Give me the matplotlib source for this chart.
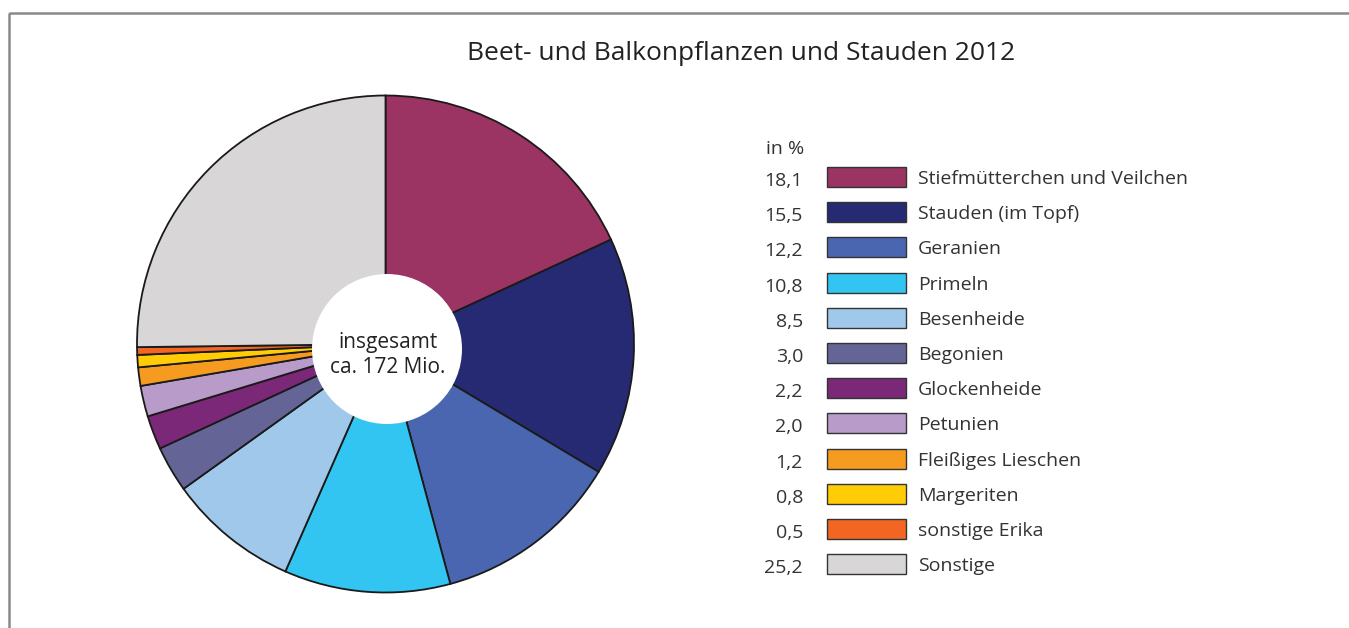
import matplotlib.pyplot as plt
from matplotlib.patches import Rectangle, Circle

plt.rcParams['font.family'] = ['Open Sans', 'DejaVu Sans']

labels = ['Stiefmütterchen und Veilchen', 'Stauden (im Topf)', 'Geranien', 'Primeln',
          'Besenheide', 'Begonien', 'Glockenheide', 'Petunien', 'Fleißiges Lieschen',
          'Margeriten', 'sonstige Erika', 'Sonstige']
values = [18.1, 15.5, 12.2, 10.8, 8.5, 3.0, 2.2, 2.0, 1.2, 0.8, 0.5, 25.2]
value_text = ['18,1', '15,5', '12,2', '10,8', '8,5', '3,0', '2,2', '2,0', '1,2', '0,8', '0,5', '25,2']
colors = ['#9b3463', '#262a72', '#4a66b0', '#33c5f1', '#a0c8eb', '#646496',
          '#7b2878', '#b89bc9', '#f59c20', '#ffcc05', '#f26522', '#d8d6d7']

W, H = 1349, 628
fig = plt.figure(figsize=(W / 100, H / 100), dpi=100)

# layout axes in pixel units (y downwards)
bg = fig.add_axes([0, 0, 1, 1])
bg.set_xlim(0, W)
bg.set_ylim(H, 0)
bg.axis('off')

# frame (right and bottom run off the picture)
bg.add_patch(Rectangle((9, 13), W + 20, H + 20, fill=False, edgecolor='#8a8a8a', lw=1.8))

bg.text(741, 53, 'Beet- und Balkonpflanzen und Stauden 2012', ha='center', va='center',
        fontsize=19, color='#222222')

# legend
bg.text(766, 149, 'in %', ha='left', va='center', fontsize=14, color='#333333')
y0, step = 177, 35.2
for i, (lab, vt, c) in enumerate(zip(labels, value_text, colors)):
    y = y0 + i * step
    bg.text(803, y + 4, vt, ha='right', va='center', fontsize=14, color='#333333')
    bg.add_patch(Rectangle((827, y - 10), 79, 20, facecolor=c, edgecolor='#333333', lw=1))
    bg.text(918, y + 2, lab, ha='left', va='center', fontsize=14, color='#333333')

# pie
cx, cy, r = 385.5, 344, 248.5
ax = fig.add_axes([(cx - r) / W, (H - cy - r) / H, 2 * r / W, 2 * r / H])
ax.pie(values, colors=colors, startangle=90, counterclock=False, radius=1,
       wedgeprops=dict(edgecolor='#1a1a1a', linewidth=1.3))
ax.set_xlim(-1.0, 1.0)
ax.set_ylim(-1.0, 1.0)
ax.add_patch(Circle((1.5 / r, -5 / r), 75 / r, facecolor='white', edgecolor='none', zorder=5))
ax.text(2 / r, -11 / r, 'insgesamt\nca. 172 Mio.', ha='center', va='center', fontsize=15,
        color='#222222', linespacing=1.2, zorder=6)
ax.axis('off')

fig.savefig('out.png', dpi=100)
